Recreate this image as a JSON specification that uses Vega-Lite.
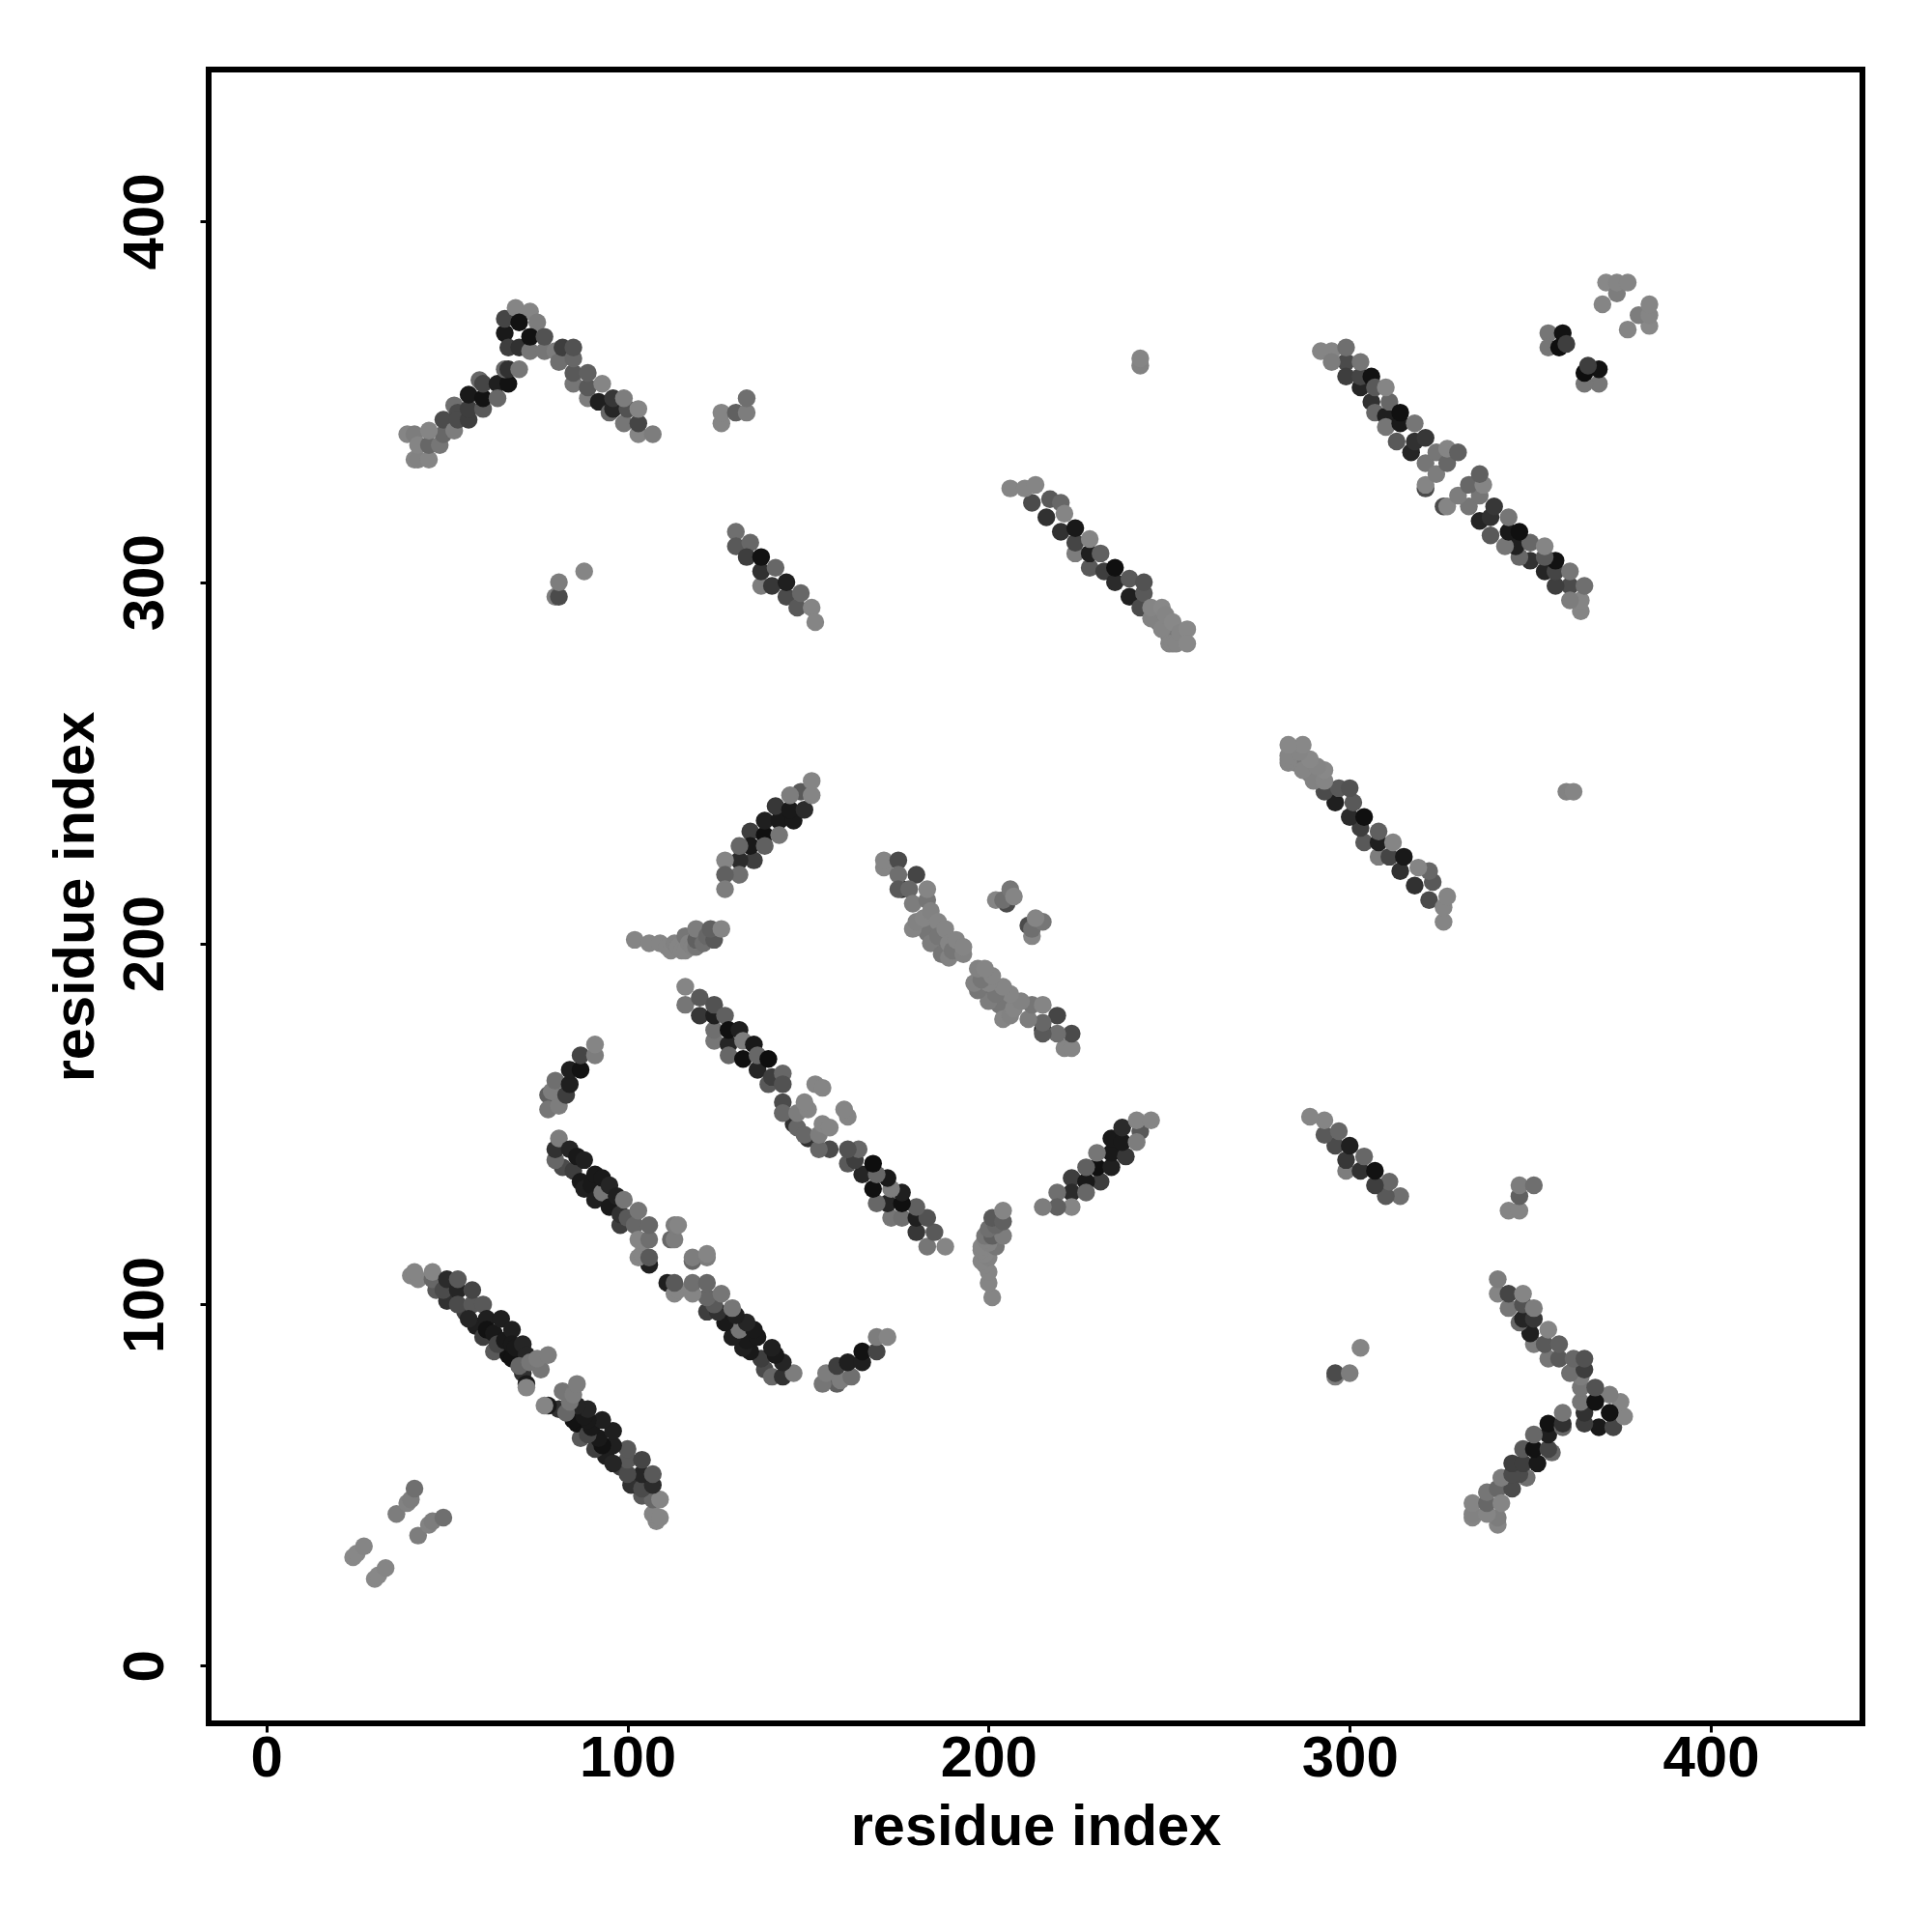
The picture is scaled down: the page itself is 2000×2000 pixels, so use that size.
{"$schema":"https://vega.github.io/schema/vega-lite/v6.json","width":1712,"height":1712,"autosize":"none","padding":{"left":216,"top":72,"right":72,"bottom":216},"background":"white",
"data":{"values":[
{"x":24,"y":30,"w":0.08},{"x":25,"y":31,"w":0.08},{"x":27,"y":33,"w":0.1},{"x":36,"y":42,"w":0.15},{"x":39,"y":45,"w":0.12},{"x":40,"y":46,"w":0.15},{"x":41,"y":49,"w":0.25},
{"x":47,"y":104,"w":0.4},{"x":50,"y":101,"w":0.7},{"x":55,"y":98,"w":0.6},{"x":58,"y":94,"w":0.85},{"x":60,"y":91,"w":0.6},{"x":63,"y":87,"w":0.4},{"x":67,"y":86,"w":0.95},{"x":71,"y":81,"w":0.7},{"x":72,"y":78,"w":0.9},
{"x":40,"y":108,"w":0.1},{"x":42,"y":107,"w":0.1},{"x":41,"y":109,"w":0.1},{"x":46,"y":107,"w":0.3},{"x":46,"y":109,"w":0.1},{"x":49,"y":104,"w":0.5},{"x":50,"y":107,"w":0.75},{"x":53,"y":104,"w":0.8},{"x":53,"y":107,"w":0.4},{"x":53,"y":100,"w":0.5},{"x":57,"y":100,"w":0.4},{"x":57,"y":104,"w":0.55},{"x":56,"y":96,"w":0.8},{"x":60,"y":100,"w":0.4},{"x":61,"y":96,"w":0.85},{"x":61,"y":93,"w":0.95},{"x":63,"y":92,"w":0.9},{"x":65,"y":96,"w":0.85},{"x":64,"y":89,"w":0.55},{"x":66,"y":90,"w":0.9},{"x":68,"y":93,"w":0.85},{"x":68,"y":89,"w":0.9},{"x":68,"y":85,"w":0.95},{"x":69,"y":88,"w":0.9},{"x":71,"y":89,"w":0.8},{"x":72,"y":86,"w":0.8},{"x":70,"y":83,"w":0.3},{"x":72,"y":77,"w":0.1},{"x":73,"y":84,"w":0.2},{"x":76,"y":82,"w":0.2},{"x":75,"y":85,"w":0.15},{"x":78,"y":86,"w":0.15},
{"x":82,"y":138,"w":0.5},{"x":80,"y":140,"w":0.3},{"x":80,"y":143,"w":0.7},{"x":81,"y":146,"w":0.15},{"x":85,"y":137,"w":0.6},{"x":84,"y":143,"w":0.8},{"x":87,"y":134,"w":0.9},{"x":86,"y":141,"w":0.9},{"x":88,"y":140,"w":0.85},{"x":88,"y":132,"w":0.85},{"x":90,"y":133,"w":0.9},{"x":91,"y":129,"w":0.85},{"x":91,"y":136,"w":0.9},{"x":93,"y":131,"w":0.2},{"x":93,"y":135,"w":0.9},{"x":95,"y":127,"w":0.9},{"x":95,"y":133,"w":0.8},{"x":97,"y":130,"w":0.85},{"x":98,"y":122,"w":0.6},{"x":98,"y":125,"w":0.7},{"x":99,"y":129,"w":0.2},{"x":100,"y":124,"w":0.4},{"x":102,"y":122,"w":0.3},{"x":103,"y":126,"w":0.2},{"x":106,"y":111,"w":0.85},{"x":103,"y":113,"w":0.1},{"x":104,"y":114,"w":0.1},{"x":106,"y":113,"w":0.4},{"x":103,"y":118,"w":0.1},{"x":106,"y":118,"w":0.25},{"x":106,"y":122,"w":0.3},{"x":112,"y":118,"w":0.3},{"x":113,"y":118,"w":0.15},{"x":113,"y":122,"w":0.15},{"x":114,"y":122,"w":0.1},
{"x":78,"y":158,"w":0.35},{"x":78,"y":154,"w":0.2},{"x":81,"y":155,"w":0.15},{"x":79,"y":159,"w":0.15},{"x":80,"y":162,"w":0.25},{"x":83,"y":158,"w":0.6},{"x":84,"y":161,"w":0.85},{"x":84,"y":165,"w":0.85},{"x":87,"y":165,"w":0.95},{"x":87,"y":169,"w":0.55},{"x":91,"y":169,"w":0.15},{"x":91,"y":172,"w":0.1},
{"x":116,"y":183,"w":0.2},{"x":116,"y":188,"w":0.1},{"x":120,"y":180,"w":0.65},{"x":120,"y":185,"w":0.4},{"x":124,"y":173,"w":0.2},{"x":124,"y":176,"w":0.25},{"x":124,"y":180,"w":0.85},{"x":124,"y":183,"w":0.45},{"x":127,"y":180,"w":0.35},{"x":128,"y":172,"w":0.8},{"x":128,"y":169,"w":0.3},{"x":128,"y":176,"w":0.97},{"x":131,"y":176,"w":0.85},{"x":132,"y":168,"w":0.97},{"x":132,"y":173,"w":0.15},{"x":135,"y":172,"w":0.9},{"x":136,"y":165,"w":0.8},{"x":136,"y":169,"w":0.3},{"x":139,"y":168,"w":0.98},{"x":139,"y":161,"w":0.4},{"x":140,"y":163,"w":0.6},{"x":143,"y":164,"w":0.3},{"x":143,"y":161,"w":0.45},{"x":143,"y":156,"w":0.5},{"x":146,"y":150,"w":0.7},{"x":143,"y":153,"w":0.3},{"x":147,"y":149,"w":0.3},{"x":147,"y":153,"w":0.15},{"x":150,"y":154,"w":0.1},{"x":149,"y":156,"w":0.1},{"x":152,"y":161,"w":0.1},{"x":154,"y":160,"w":0.1},
{"x":135,"y":223,"w":0.6},{"x":131,"y":223,"w":0.75},{"x":127,"y":223,"w":0.1},{"x":131,"y":219,"w":0.25},{"x":127,"y":219,"w":0.35},{"x":127,"y":215,"w":0.15},{"x":134,"y":231,"w":0.6},{"x":134,"y":227,"w":0.9},{"x":131,"y":227,"w":0.3},{"x":138,"y":230,"w":0.97},{"x":138,"y":227,"w":0.35},{"x":138,"y":234,"w":0.85},{"x":142,"y":234,"w":0.9},{"x":142,"y":230,"w":0.2},{"x":141,"y":238,"w":0.65},{"x":146,"y":234,"w":0.9},{"x":145,"y":237,"w":0.9},{"x":149,"y":237,"w":0.75},{"x":148,"y":242,"w":0.4},{"x":145,"y":241,"w":0.15},{"x":151,"y":241,"w":0.1},{"x":151,"y":245,"w":0.1},
{"x":102,"y":201,"w":0.1},{"x":106,"y":200,"w":0.1},{"x":109,"y":200,"w":0.1},{"x":111,"y":199,"w":0.1},{"x":112,"y":198,"w":0.1},{"x":113,"y":200,"w":0.12},{"x":114,"y":199,"w":0.1},{"x":115,"y":198,"w":0.1},{"x":116,"y":198,"w":0.1},{"x":116,"y":202,"w":0.2},{"x":117,"y":200,"w":0.12},{"x":118,"y":199,"w":0.12},{"x":119,"y":199,"w":0.2},{"x":119,"y":201,"w":0.35},{"x":119,"y":204,"w":0.15},{"x":121,"y":200,"w":0.25},{"x":122,"y":202,"w":0.3},{"x":124,"y":201,"w":0.4},{"x":123,"y":204,"w":0.35},{"x":126,"y":204,"w":0.1},
{"x":171,"y":221,"w":0.1},{"x":171,"y":223,"w":0.1},{"x":176,"y":215,"w":0.8},{"x":175,"y":223,"w":0.5},{"x":175,"y":219,"w":0.25},{"x":180,"y":219,"w":0.55},{"x":175,"y":215,"w":0.4},{"x":178,"y":215,"w":0.3},{"x":179,"y":211,"w":0.15},{"x":183,"y":212,"w":0.2},{"x":183,"y":215,"w":0.1},
{"x":185,"y":204,"w":0.3},{"x":187,"y":200,"w":0.25},{"x":183,"y":203,"w":0.2},{"x":179,"y":204,"w":0.1},{"x":180,"y":206,"w":0.12},{"x":182,"y":207,"w":0.1},{"x":184,"y":209,"w":0.12},{"x":184,"y":200,"w":0.15},{"x":186,"y":206,"w":0.1},{"x":186,"y":202,"w":0.2},{"x":187,"y":197,"w":0.2},{"x":188,"y":204,"w":0.1},{"x":189,"y":200,"w":0.1},{"x":189,"y":196,"w":0.12},{"x":190,"y":198,"w":0.2},{"x":191,"y":201,"w":0.1},{"x":193,"y":197,"w":0.12},{"x":193,"y":199,"w":0.1},
{"x":205,"y":211,"w":0.5},{"x":202,"y":212,"w":0.1},{"x":204,"y":212,"w":0.25},{"x":206,"y":215,"w":0.2},{"x":207,"y":213,"w":0.1},
{"x":130,"y":314,"w":0.25},{"x":130,"y":310,"w":0.4},{"x":134,"y":311,"w":0.3},{"x":133,"y":307,"w":0.6},{"x":137,"y":299,"w":0.15},{"x":137,"y":303,"w":0.7},{"x":137,"y":307,"w":0.95},{"x":141,"y":304,"w":0.3},{"x":140,"y":299,"w":0.65},{"x":144,"y":296,"w":0.5},{"x":144,"y":300,"w":0.85},{"x":147,"y":293,"w":0.4},{"x":148,"y":297,"w":0.3},{"x":151,"y":293,"w":0.1},{"x":152,"y":289,"w":0.1},
{"x":126,"y":344,"w":0.1},{"x":126,"y":347,"w":0.1},{"x":130,"y":347,"w":0.35},{"x":133,"y":347,"w":0.15},{"x":133,"y":351,"w":0.25},
{"x":80,"y":296,"w":0.15},{"x":81,"y":296,"w":0.5},{"x":81,"y":300,"w":0.15},{"x":88,"y":303,"w":0.1},
{"x":212,"y":322,"w":0.5},{"x":216,"y":318,"w":0.7},{"x":206,"y":326,"w":0.1},{"x":210,"y":326,"w":0.1},{"x":213,"y":327,"w":0.1},{"x":217,"y":323,"w":0.4},{"x":220,"y":314,"w":0.7},{"x":220,"y":322,"w":0.3},{"x":221,"y":319,"w":0.1},{"x":224,"y":308,"w":0.15},{"x":224,"y":311,"w":0.55},{"x":224,"y":315,"w":0.9},{"x":228,"y":304,"w":0.4},{"x":228,"y":308,"w":0.85},{"x":228,"y":312,"w":0.1},{"x":231,"y":308,"w":0.35},{"x":232,"y":303,"w":0.6},{"x":235,"y":300,"w":0.75},{"x":235,"y":304,"w":0.97},{"x":239,"y":296,"w":0.85},{"x":239,"y":301,"w":0.4},{"x":242,"y":293,"w":0.5},{"x":243,"y":297,"w":0.4},{"x":243,"y":300,"w":0.45},{"x":247,"y":289,"w":0.15},{"x":250,"y":285,"w":0.2},{"x":245,"y":290,"w":0.12},{"x":245,"y":293,"w":0.1},{"x":248,"y":293,"w":0.08},{"x":248,"y":287,"w":0.1},{"x":249,"y":291,"w":0.1},{"x":250,"y":283,"w":0.1},{"x":251,"y":289,"w":0.08},{"x":251,"y":283,"w":0.1},{"x":252,"y":283,"w":0.1},{"x":253,"y":286,"w":0.1},{"x":255,"y":287,"w":0.08},{"x":255,"y":283,"w":0.08},
{"x":299,"y":361,"w":0.5},{"x":299,"y":357,"w":0.6},{"x":292,"y":364,"w":0.1},{"x":295,"y":364,"w":0.1},{"x":295,"y":361,"w":0.15},{"x":299,"y":365,"w":0.25},{"x":303,"y":354,"w":0.8},{"x":303,"y":357,"w":0.55},{"x":303,"y":361,"w":0.2},{"x":306,"y":350,"w":0.7},{"x":307,"y":347,"w":0.3},{"x":306,"y":357,"w":0.95},{"x":307,"y":354,"w":0.4},{"x":310,"y":346,"w":0.85},{"x":310,"y":343,"w":0.2},{"x":311,"y":350,"w":0.3},{"x":310,"y":354,"w":0.1},{"x":313,"y":339,"w":0.4},{"x":314,"y":344,"w":0.9},{"x":314,"y":347,"w":0.97},{"x":317,"y":336,"w":0.8},{"x":318,"y":339,"w":0.7},{"x":318,"y":344,"w":0.2},{"x":321,"y":340,"w":0.65},{"x":321,"y":326,"w":0.5},{"x":321,"y":333,"w":0.2},{"x":321,"y":327,"w":0.1},{"x":324,"y":330,"w":0.15},{"x":324,"y":336,"w":0.2},{"x":327,"y":333,"w":0.3},{"x":327,"y":337,"w":0.1},{"x":330,"y":336,"w":0.35},
{"x":355,"y":369,"w":0.2},{"x":355,"y":365,"w":0.2},{"x":359,"y":369,"w":0.95},{"x":358,"y":365,"w":0.98},{"x":360,"y":366,"w":0.6},
{"x":370,"y":377,"w":0.1},{"x":371,"y":383,"w":0.08},{"x":374,"y":380,"w":0.15},{"x":374,"y":383,"w":0.1},{"x":377,"y":383,"w":0.1},
{"x":242,"y":360,"w":0.12},{"x":242,"y":362,"w":0.1},
{"x":41,"y":334,"w":0.1},{"x":42,"y":334,"w":0.12},{"x":45,"y":334,"w":0.1},{"x":39,"y":341,"w":0.1},{"x":41,"y":341,"w":0.15},{"x":42,"y":338,"w":0.1},{"x":45,"y":338,"w":0.3},{"x":48,"y":338,"w":0.2},{"x":49,"y":341,"w":0.3},{"x":45,"y":342,"w":0.1},{"x":49,"y":345,"w":0.5},{"x":52,"y":349,"w":0.25},{"x":53,"y":347,"w":0.5},{"x":52,"y":342,"w":0.15},{"x":53,"y":345,"w":0.5},{"x":56,"y":345,"w":0.6},{"x":56,"y":348,"w":0.6},{"x":56,"y":352,"w":0.9},{"x":59,"y":356,"w":0.3},{"x":60,"y":348,"w":0.4},{"x":60,"y":351,"w":0.95},{"x":60,"y":355,"w":0.55},{"x":64,"y":355,"w":0.85},{"x":64,"y":351,"w":0.3},{"x":67,"y":355,"w":0.95},{"x":66,"y":359,"w":0.3},{"x":67,"y":359,"w":0.7},{"x":70,"y":359,"w":0.2},
{"x":66,"y":369,"w":0.9},{"x":66,"y":373,"w":0.55},{"x":67,"y":365,"w":0.6},{"x":69,"y":376,"w":0.1},{"x":73,"y":375,"w":0.1},{"x":70,"y":365,"w":0.7},{"x":70,"y":372,"w":0.95},{"x":75,"y":372,"w":0.15},{"x":73,"y":364,"w":0.2},{"x":73,"y":368,"w":0.95},{"x":77,"y":364,"w":0.2},{"x":77,"y":368,"w":0.45},{"x":80,"y":364,"w":0.15},{"x":81,"y":361,"w":0.25},{"x":82,"y":365,"w":0.6},{"x":85,"y":355,"w":0.2},{"x":85,"y":358,"w":0.4},{"x":85,"y":362,"w":0.3},{"x":85,"y":365,"w":0.45},{"x":89,"y":351,"w":0.15},{"x":89,"y":354,"w":0.4},{"x":89,"y":358,"w":0.35},{"x":92,"y":350,"w":0.85},{"x":93,"y":355,"w":0.1},{"x":95,"y":347,"w":0.3},{"x":96,"y":348,"w":0.8},{"x":96,"y":351,"w":0.65},{"x":99,"y":344,"w":0.2},{"x":100,"y":348,"w":0.45},{"x":99,"y":351,"w":0.15},{"x":103,"y":341,"w":0.1},{"x":103,"y":344,"w":0.55},{"x":103,"y":348,"w":0.1},{"x":107,"y":341,"w":0.15},
{"y":24,"x":30,"w":0.08},{"y":25,"x":31,"w":0.08},{"y":27,"x":33,"w":0.1},{"y":36,"x":42,"w":0.15},{"y":39,"x":45,"w":0.12},{"y":40,"x":46,"w":0.15},{"y":41,"x":49,"w":0.25},
{"y":47,"x":104,"w":0.4},{"y":50,"x":101,"w":0.7},{"y":55,"x":98,"w":0.6},{"y":58,"x":94,"w":0.85},{"y":60,"x":91,"w":0.6},{"y":63,"x":87,"w":0.4},{"y":67,"x":86,"w":0.95},{"y":71,"x":81,"w":0.7},{"y":72,"x":78,"w":0.9},
{"y":40,"x":108,"w":0.1},{"y":42,"x":107,"w":0.1},{"y":41,"x":109,"w":0.1},{"y":46,"x":107,"w":0.3},{"y":46,"x":109,"w":0.1},{"y":49,"x":104,"w":0.5},{"y":50,"x":107,"w":0.75},{"y":53,"x":104,"w":0.8},{"y":53,"x":107,"w":0.4},{"y":53,"x":100,"w":0.5},{"y":57,"x":100,"w":0.4},{"y":57,"x":104,"w":0.55},{"y":56,"x":96,"w":0.8},{"y":60,"x":100,"w":0.4},{"y":61,"x":96,"w":0.85},{"y":61,"x":93,"w":0.95},{"y":63,"x":92,"w":0.9},{"y":65,"x":96,"w":0.85},{"y":64,"x":89,"w":0.55},{"y":66,"x":90,"w":0.9},{"y":68,"x":93,"w":0.85},{"y":68,"x":89,"w":0.9},{"y":68,"x":85,"w":0.95},{"y":69,"x":88,"w":0.9},{"y":71,"x":89,"w":0.8},{"y":72,"x":86,"w":0.8},{"y":70,"x":83,"w":0.3},{"y":72,"x":77,"w":0.1},{"y":73,"x":84,"w":0.2},{"y":76,"x":82,"w":0.2},{"y":75,"x":85,"w":0.15},{"y":78,"x":86,"w":0.15},
{"y":82,"x":138,"w":0.5},{"y":80,"x":140,"w":0.3},{"y":80,"x":143,"w":0.7},{"y":81,"x":146,"w":0.15},{"y":85,"x":137,"w":0.6},{"y":84,"x":143,"w":0.8},{"y":87,"x":134,"w":0.9},{"y":86,"x":141,"w":0.9},{"y":88,"x":140,"w":0.85},{"y":88,"x":132,"w":0.85},{"y":90,"x":133,"w":0.9},{"y":91,"x":129,"w":0.85},{"y":91,"x":136,"w":0.9},{"y":93,"x":131,"w":0.2},{"y":93,"x":135,"w":0.9},{"y":95,"x":127,"w":0.9},{"y":95,"x":133,"w":0.8},{"y":97,"x":130,"w":0.85},{"y":98,"x":122,"w":0.6},{"y":98,"x":125,"w":0.7},{"y":99,"x":129,"w":0.2},{"y":100,"x":124,"w":0.4},{"y":102,"x":122,"w":0.3},{"y":103,"x":126,"w":0.2},{"y":106,"x":111,"w":0.85},{"y":103,"x":113,"w":0.1},{"y":104,"x":114,"w":0.1},{"y":106,"x":113,"w":0.4},{"y":103,"x":118,"w":0.1},{"y":106,"x":118,"w":0.25},{"y":106,"x":122,"w":0.3},{"y":112,"x":118,"w":0.3},{"y":113,"x":118,"w":0.15},{"y":113,"x":122,"w":0.15},{"y":114,"x":122,"w":0.1},
{"y":78,"x":158,"w":0.35},{"y":78,"x":154,"w":0.2},{"y":81,"x":155,"w":0.15},{"y":79,"x":159,"w":0.15},{"y":80,"x":162,"w":0.25},{"y":83,"x":158,"w":0.6},{"y":84,"x":161,"w":0.85},{"y":84,"x":165,"w":0.85},{"y":87,"x":165,"w":0.95},{"y":87,"x":169,"w":0.55},{"y":91,"x":169,"w":0.15},{"y":91,"x":172,"w":0.1},
{"y":116,"x":183,"w":0.2},{"y":116,"x":188,"w":0.1},{"y":120,"x":180,"w":0.65},{"y":120,"x":185,"w":0.4},{"y":124,"x":173,"w":0.2},{"y":124,"x":176,"w":0.25},{"y":124,"x":180,"w":0.85},{"y":124,"x":183,"w":0.45},{"y":127,"x":180,"w":0.35},{"y":128,"x":172,"w":0.8},{"y":128,"x":169,"w":0.3},{"y":128,"x":176,"w":0.97},{"y":131,"x":176,"w":0.85},{"y":132,"x":168,"w":0.97},{"y":132,"x":173,"w":0.15},{"y":135,"x":172,"w":0.9},{"y":136,"x":165,"w":0.8},{"y":136,"x":169,"w":0.3},{"y":139,"x":168,"w":0.98},{"y":139,"x":161,"w":0.4},{"y":140,"x":163,"w":0.6},{"y":143,"x":164,"w":0.3},{"y":143,"x":161,"w":0.45},{"y":143,"x":156,"w":0.5},{"y":146,"x":150,"w":0.7},{"y":143,"x":153,"w":0.3},{"y":147,"x":149,"w":0.3},{"y":147,"x":153,"w":0.15},{"y":150,"x":154,"w":0.1},{"y":149,"x":156,"w":0.1},{"y":152,"x":161,"w":0.1},{"y":154,"x":160,"w":0.1},
{"y":135,"x":223,"w":0.6},{"y":131,"x":223,"w":0.75},{"y":127,"x":223,"w":0.1},{"y":131,"x":219,"w":0.25},{"y":127,"x":219,"w":0.35},{"y":127,"x":215,"w":0.15},{"y":134,"x":231,"w":0.6},{"y":134,"x":227,"w":0.9},{"y":131,"x":227,"w":0.3},{"y":138,"x":230,"w":0.97},{"y":138,"x":227,"w":0.35},{"y":138,"x":234,"w":0.85},{"y":142,"x":234,"w":0.9},{"y":142,"x":230,"w":0.2},{"y":141,"x":238,"w":0.65},{"y":146,"x":234,"w":0.9},{"y":145,"x":237,"w":0.9},{"y":149,"x":237,"w":0.75},{"y":148,"x":242,"w":0.4},{"y":145,"x":241,"w":0.15},{"y":151,"x":241,"w":0.1},{"y":151,"x":245,"w":0.1},
{"y":102,"x":201,"w":0.1},{"y":106,"x":200,"w":0.1},{"y":109,"x":200,"w":0.1},{"y":111,"x":199,"w":0.1},{"y":112,"x":198,"w":0.1},{"y":113,"x":200,"w":0.12},{"y":114,"x":199,"w":0.1},{"y":115,"x":198,"w":0.1},{"y":116,"x":198,"w":0.1},{"y":116,"x":202,"w":0.2},{"y":117,"x":200,"w":0.12},{"y":118,"x":199,"w":0.12},{"y":119,"x":199,"w":0.2},{"y":119,"x":201,"w":0.35},{"y":119,"x":204,"w":0.15},{"y":121,"x":200,"w":0.25},{"y":122,"x":202,"w":0.3},{"y":124,"x":201,"w":0.4},{"y":123,"x":204,"w":0.35},{"y":126,"x":204,"w":0.1},
{"y":171,"x":221,"w":0.1},{"y":171,"x":223,"w":0.1},{"y":176,"x":215,"w":0.8},{"y":175,"x":223,"w":0.5},{"y":175,"x":219,"w":0.25},{"y":180,"x":219,"w":0.55},{"y":175,"x":215,"w":0.4},{"y":178,"x":215,"w":0.3},{"y":179,"x":211,"w":0.15},{"y":183,"x":212,"w":0.2},{"y":183,"x":215,"w":0.1},
{"y":185,"x":204,"w":0.3},{"y":187,"x":200,"w":0.25},{"y":183,"x":203,"w":0.2},{"y":179,"x":204,"w":0.1},{"y":180,"x":206,"w":0.12},{"y":182,"x":207,"w":0.1},{"y":184,"x":209,"w":0.12},{"y":184,"x":200,"w":0.15},{"y":186,"x":206,"w":0.1},{"y":186,"x":202,"w":0.2},{"y":187,"x":197,"w":0.2},{"y":188,"x":204,"w":0.1},{"y":189,"x":200,"w":0.1},{"y":189,"x":196,"w":0.12},{"y":190,"x":198,"w":0.2},{"y":191,"x":201,"w":0.1},{"y":193,"x":197,"w":0.12},{"y":193,"x":199,"w":0.1},
{"y":205,"x":211,"w":0.5},{"y":202,"x":212,"w":0.1},{"y":204,"x":212,"w":0.25},{"y":206,"x":215,"w":0.2},{"y":207,"x":213,"w":0.1},
{"y":130,"x":314,"w":0.25},{"y":130,"x":310,"w":0.4},{"y":134,"x":311,"w":0.3},{"y":133,"x":307,"w":0.6},{"y":137,"x":299,"w":0.15},{"y":137,"x":303,"w":0.7},{"y":137,"x":307,"w":0.95},{"y":141,"x":304,"w":0.3},{"y":140,"x":299,"w":0.65},{"y":144,"x":296,"w":0.5},{"y":144,"x":300,"w":0.85},{"y":147,"x":293,"w":0.4},{"y":148,"x":297,"w":0.3},{"y":151,"x":293,"w":0.1},{"y":152,"x":289,"w":0.1},
{"y":126,"x":344,"w":0.1},{"y":126,"x":347,"w":0.1},{"y":130,"x":347,"w":0.35},{"y":133,"x":347,"w":0.15},{"y":133,"x":351,"w":0.25},
{"y":80,"x":296,"w":0.15},{"y":81,"x":296,"w":0.5},{"y":81,"x":300,"w":0.15},{"y":88,"x":303,"w":0.1},
{"y":212,"x":322,"w":0.5},{"y":216,"x":318,"w":0.7},{"y":206,"x":326,"w":0.1},{"y":210,"x":326,"w":0.1},{"y":213,"x":327,"w":0.1},{"y":217,"x":323,"w":0.4},{"y":220,"x":314,"w":0.7},{"y":220,"x":322,"w":0.3},{"y":221,"x":319,"w":0.1},{"y":224,"x":308,"w":0.15},{"y":224,"x":311,"w":0.55},{"y":224,"x":315,"w":0.9},{"y":228,"x":304,"w":0.4},{"y":228,"x":308,"w":0.85},{"y":228,"x":312,"w":0.1},{"y":231,"x":308,"w":0.35},{"y":232,"x":303,"w":0.6},{"y":235,"x":300,"w":0.75},{"y":235,"x":304,"w":0.97},{"y":239,"x":296,"w":0.85},{"y":239,"x":301,"w":0.4},{"y":242,"x":293,"w":0.5},{"y":243,"x":297,"w":0.4},{"y":243,"x":300,"w":0.45},{"y":247,"x":289,"w":0.15},{"y":250,"x":285,"w":0.2},{"y":245,"x":290,"w":0.12},{"y":245,"x":293,"w":0.1},{"y":248,"x":293,"w":0.08},{"y":248,"x":287,"w":0.1},{"y":249,"x":291,"w":0.1},{"y":250,"x":283,"w":0.1},{"y":251,"x":289,"w":0.08},{"y":251,"x":283,"w":0.1},{"y":252,"x":283,"w":0.1},{"y":253,"x":286,"w":0.1},{"y":255,"x":287,"w":0.08},{"y":255,"x":283,"w":0.08},
{"y":299,"x":361,"w":0.5},{"y":299,"x":357,"w":0.6},{"y":292,"x":364,"w":0.1},{"y":295,"x":364,"w":0.1},{"y":295,"x":361,"w":0.15},{"y":299,"x":365,"w":0.25},{"y":303,"x":354,"w":0.8},{"y":303,"x":357,"w":0.55},{"y":303,"x":361,"w":0.2},{"y":306,"x":350,"w":0.7},{"y":307,"x":347,"w":0.3},{"y":306,"x":357,"w":0.95},{"y":307,"x":354,"w":0.4},{"y":310,"x":346,"w":0.85},{"y":310,"x":343,"w":0.2},{"y":311,"x":350,"w":0.3},{"y":310,"x":354,"w":0.1},{"y":313,"x":339,"w":0.4},{"y":314,"x":344,"w":0.9},{"y":314,"x":347,"w":0.97},{"y":317,"x":336,"w":0.8},{"y":318,"x":339,"w":0.7},{"y":318,"x":344,"w":0.2},{"y":321,"x":340,"w":0.65},{"y":321,"x":326,"w":0.5},{"y":321,"x":333,"w":0.2},{"y":321,"x":327,"w":0.1},{"y":324,"x":330,"w":0.15},{"y":324,"x":336,"w":0.2},{"y":327,"x":333,"w":0.3},{"y":327,"x":337,"w":0.1},{"y":330,"x":336,"w":0.35},
{"y":355,"x":369,"w":0.2},{"y":355,"x":365,"w":0.2},{"y":359,"x":369,"w":0.95},{"y":358,"x":365,"w":0.98},{"y":360,"x":366,"w":0.6},
{"y":370,"x":377,"w":0.1},{"y":371,"x":383,"w":0.08},{"y":374,"x":380,"w":0.15},{"y":374,"x":383,"w":0.1},{"y":377,"x":383,"w":0.1},
{"y":242,"x":360,"w":0.12},{"y":242,"x":362,"w":0.1},
{"y":41,"x":334,"w":0.1},{"y":42,"x":334,"w":0.12},{"y":45,"x":334,"w":0.1},{"y":39,"x":341,"w":0.1},{"y":41,"x":341,"w":0.15},{"y":42,"x":338,"w":0.1},{"y":45,"x":338,"w":0.3},{"y":48,"x":338,"w":0.2},{"y":49,"x":341,"w":0.3},{"y":45,"x":342,"w":0.1},{"y":49,"x":345,"w":0.5},{"y":52,"x":349,"w":0.25},{"y":53,"x":347,"w":0.5},{"y":52,"x":342,"w":0.15},{"y":53,"x":345,"w":0.5},{"y":56,"x":345,"w":0.6},{"y":56,"x":348,"w":0.6},{"y":56,"x":352,"w":0.9},{"y":59,"x":356,"w":0.3},{"y":60,"x":348,"w":0.4},{"y":60,"x":351,"w":0.95},{"y":60,"x":355,"w":0.55},{"y":64,"x":355,"w":0.85},{"y":64,"x":351,"w":0.3},{"y":67,"x":355,"w":0.95},{"y":66,"x":359,"w":0.3},{"y":67,"x":359,"w":0.7},{"y":70,"x":359,"w":0.2},
{"y":66,"x":369,"w":0.9},{"y":66,"x":373,"w":0.55},{"y":67,"x":365,"w":0.6},{"y":69,"x":376,"w":0.1},{"y":73,"x":375,"w":0.1},{"y":70,"x":365,"w":0.7},{"y":70,"x":372,"w":0.95},{"y":75,"x":372,"w":0.15},{"y":73,"x":364,"w":0.2},{"y":73,"x":368,"w":0.95},{"y":77,"x":364,"w":0.2},{"y":77,"x":368,"w":0.45},{"y":80,"x":364,"w":0.15},{"y":81,"x":361,"w":0.25},{"y":82,"x":365,"w":0.6},{"y":85,"x":355,"w":0.2},{"y":85,"x":358,"w":0.4},{"y":85,"x":362,"w":0.3},{"y":85,"x":365,"w":0.45},{"y":89,"x":351,"w":0.15},{"y":89,"x":354,"w":0.4},{"y":89,"x":358,"w":0.35},{"y":92,"x":350,"w":0.85},{"y":93,"x":355,"w":0.1},{"y":95,"x":347,"w":0.3},{"y":96,"x":348,"w":0.8},{"y":96,"x":351,"w":0.65},{"y":99,"x":344,"w":0.2},{"y":100,"x":348,"w":0.45},{"y":99,"x":351,"w":0.15},{"y":103,"x":341,"w":0.1},{"y":103,"x":344,"w":0.55},{"y":103,"x":348,"w":0.1},{"y":107,"x":341,"w":0.15}
]},
"mark":{"type":"circle","size":340,"opacity":1},
"encoding":{
"x":{"field":"x","type":"quantitative","scale":{"domain":[-16,442],"nice":false,"zero":false},"axis":{"title":"residue index","values":[0,100,200,300,400],"labelPadding":-2,"titlePadding":12}},
"y":{"field":"y","type":"quantitative","scale":{"domain":[-16,442],"nice":false,"zero":false},"axis":{"title":"residue index","values":[0,100,200,300,400],"labelAngle":-90,"labelAlign":"center","labelBaseline":"bottom","labelPadding":26,"titlePadding":12}},
"color":{"field":"w","type":"quantitative","legend":null,"scale":{"domain":[0,1],"range":["#949494","#0a0a0a"]}}
},
"config":{"view":{"stroke":"#000","strokeWidth":6,"fill":"white"},"axis":{"grid":false,"domain":false,"ticks":true,"tickSize":9,"tickWidth":3,"tickColor":"#000","labelFont":"Liberation Sans","labelFontWeight":"bold","labelFontSize":60,"labelColor":"#000","titleFont":"Liberation Sans","titleFontWeight":"bold","titleFontSize":59.5,"titleColor":"#000","labelOverlap":false,"labelFlush":false}}
}
